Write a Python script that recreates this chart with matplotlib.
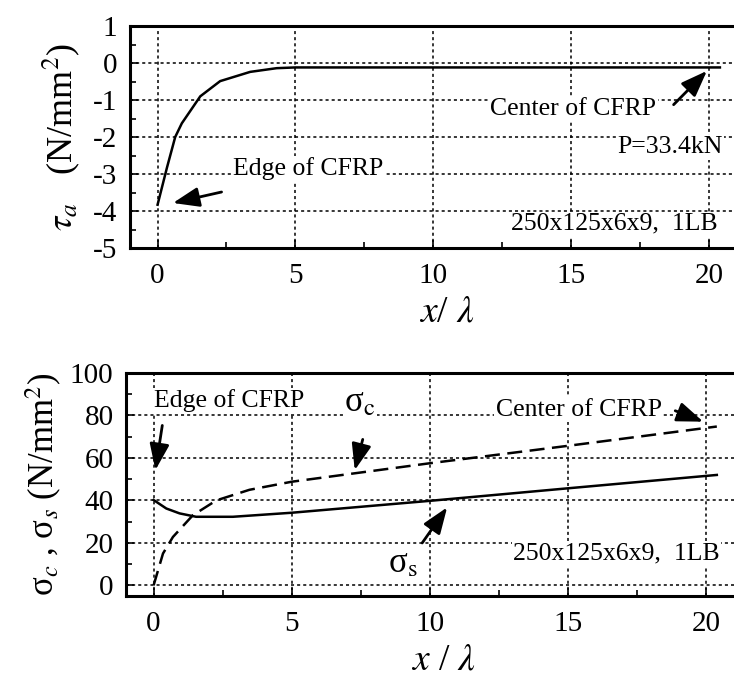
import matplotlib
matplotlib.use("Agg")
import matplotlib.pyplot as plt
from matplotlib.ticker import MultipleLocator

plt.rcParams['font.family'] = ['Liberation Serif', 'DejaVu Serif']
plt.rcParams['mathtext.fontset'] = 'stix'

# top panel: shear stress tau_a
x_tau = [0.0, 0.34, 0.64, 0.88, 1.55, 2.27, 3.36, 4.32, 5.0, 10.0, 15.0, 20.4]
tau = [-3.83, -2.83, -2.0, -1.63, -0.90, -0.49, -0.24, -0.14, -0.12, -0.12, -0.12, -0.12]

# bottom panel: sigma_c (dashed) and sigma_s (solid)
x_sc = [0.0, 0.34, 0.70, 1.42, 2.27, 3.47, 5.0, 10.0, 15.0, 20.4]
sigma_c = [0.0, 15.0, 22.8, 33.0, 40.0, 45.0, 48.8, 57.5, 65.7, 74.8]
x_ss = [0.0, 0.46, 0.94, 1.54, 2.87, 5.0, 10.0, 15.0, 20.4]
sigma_s = [40.2, 36.2, 33.9, 32.3, 32.3, 34.2, 39.8, 45.7, 52.0]

xticks = [0, 5, 10, 15, 20]
tau_ticks = [1, 0, -1, -2, -3, -4, -5]
sig_ticks = [0, 20, 40, 60, 80, 100]

fig = plt.figure(figsize=(7.34, 6.77), dpi=100)
W, H = 734, 677
def ax_rect(l, t, r, b):
    return [l / W, 1 - b / H, (r - l) / W, (b - t) / H]

ax1 = fig.add_axes(ax_rect(130, 26, 764, 248))
ax2 = fig.add_axes(ax_rect(126, 373, 761, 596))

tfs = 21
afs = 18.5
bbox = dict(facecolor='white', edgecolor='none', pad=1)
arrow = dict(arrowstyle='-|>,head_length=0.8,head_width=0.3', color='black', lw=2.0, mutation_scale=20)

for ax in (ax1, ax2):
    ax.set_xlim(-1, 22)
    ax.set_xticks(xticks)
    ax.xaxis.set_minor_locator(MultipleLocator(2.5))
    ax.grid(True, which='major', linestyle=(0, (2, 2)), color='black', linewidth=1.1)
    ax.tick_params(which='both', direction='in', labelsize=tfs)
    ax.tick_params(which='major', length=6, width=1.2)
    ax.tick_params(which='minor', length=4, width=1.2)
    ax.tick_params(axis='x', pad=11)
    ax.tick_params(axis='y', pad=9)
    for s in ax.spines.values():
        s.set_linewidth(2.2)

# top panel
ax1.plot(x_tau, tau, color='black', linewidth=1.8)
ax1.set_ylim(-5, 1)
ax1.set_yticks(tau_ticks)
ax1.set_yticklabels([str(t) for t in tau_ticks])
ax1.yaxis.set_minor_locator(MultipleLocator(0.5))
ax1.set_ylabel(r'$\tau_a$   (N/mm$^2$)', fontsize=26, labelpad=8)
ax1.set_xlabel(r'$x$/ $\lambda$', fontsize=27, labelpad=4)

ax1.text(2.75, -2.86, 'Edge of CFRP', fontsize=afs, va='center', ha='left', bbox=bbox)
ax1.annotate('', xy=(0.46, -3.80), xytext=(2.42, -3.47), arrowprops=arrow)
ax1.text(18.1, -1.23, 'Center of CFRP', fontsize=afs, va='center', ha='right', bbox=bbox)
ax1.annotate('', xy=(20.0, -0.16), xytext=(18.65, -1.18), arrowprops=arrow)
ax1.text(20.5, -2.28, 'P=33.4kN', fontsize=afs, va='center', ha='right', bbox=bbox)
ax1.text(20.3, -4.35, '250x125x6x9,  1LB', fontsize=afs, va='center', ha='right', bbox=bbox)

# bottom panel
ax2.plot(x_sc, sigma_c, color='black', linewidth=1.8, linestyle=(0, (6, 3)))
ax2.plot(x_ss, sigma_s, color='black', linewidth=1.8)
ax2.set_ylim(-5, 100)
ax2.set_yticks(sig_ticks)
ax2.yaxis.set_minor_locator(MultipleLocator(10))
ax2.set_ylabel(r'σ$_c$ , σ$_s$ (N/mm$^2$)', fontsize=25, labelpad=4)
ax2.set_xlabel(r'$x$ / $\lambda$', fontsize=27, labelpad=4)

ax2.text(0.0, 87, 'Edge of CFRP', fontsize=afs, va='center', ha='left', bbox=bbox)
ax2.annotate('', xy=(0.05, 53), xytext=(0.33, 76.6), arrowprops=arrow)
ax2.text(6.9, 86, r'σ$_\mathrm{c}$', fontsize=25, va='center', ha='left', bbox=bbox)
ax2.annotate('', xy=(7.26, 53), xytext=(7.6, 70), arrowprops=arrow)
ax2.text(18.4, 82.7, 'Center of CFRP', fontsize=afs, va='center', ha='right', bbox=bbox)
ax2.annotate('', xy=(20.0, 76.6), xytext=(18.8, 82.7), arrowprops=arrow)
ax2.text(8.5, 10.4, r'σ$_\mathrm{s}$', fontsize=25, va='center', ha='left', bbox=bbox)
ax2.annotate('', xy=(10.69, 37.8), xytext=(9.67, 18.9), arrowprops=arrow)
ax2.text(20.5, 15.1, '250x125x6x9,  1LB', fontsize=afs, va='center', ha='right', bbox=bbox)

fig.savefig('out.png', dpi=100)
